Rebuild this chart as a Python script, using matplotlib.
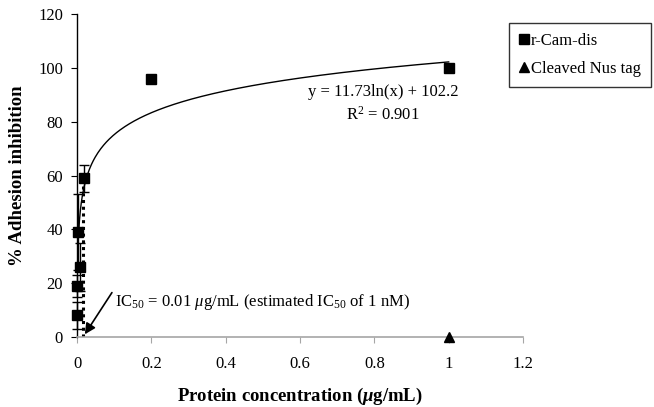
import numpy as np
import matplotlib
matplotlib.use('Agg')
import matplotlib.pyplot as plt
from matplotlib.lines import Line2D

plt.rcParams['font.family'] = 'Liberation Serif'
plt.rcParams['font.size'] = 12
plt.rcParams['mathtext.fontset'] = 'custom'
plt.rcParams['mathtext.rm'] = 'Liberation Serif'
plt.rcParams['mathtext.it'] = 'Liberation Serif:italic'
plt.rcParams['mathtext.bf'] = 'Liberation Serif:italic:bold'

# r-Cam-dis inhibition data
conc = [0.0005, 0.001, 0.008, 0.002, 0.019, 0.2, 1.0]
inhib = [8, 19, 26, 39, 59, 96, 100]
err = [5, 4, 9, 14, 5, 0, 0]

# cleaved Nus tag control
nus_conc = [1.0]
nus_inhib = [0]

# log trendline y = a ln(x) + b
fit_a = 11.73
fit_b = 102.2
fit_x = np.linspace(0.004, 1.0, 400)

ic50 = 0.017
xticks = [0, 0.2, 0.4, 0.6, 0.8, 1.0, 1.2]
xticklabels = ['0', '0.2', '0.4', '0.6', '0.8', '1', '1.2']
yticks = [0, 20, 40, 60, 80, 100, 120]

fig = plt.figure(figsize=(6.54, 4.07), dpi=100)
ax = fig.add_axes([77/654, 1 - 337/407, (523 - 77)/654, (337 - 14)/407])

# dotted IC50 line
ax.plot([ic50, ic50], [0, 58], color='black', linestyle=(0, (1, 1.2)), linewidth=2.2, zorder=2)

# trendline
ax.plot(fit_x, fit_a * np.log(fit_x) + fit_b, color='black', linewidth=1, zorder=3)

# data with error bars
eb = ax.errorbar(conc, inhib, yerr=err, fmt='s', color='black', ms=7, capsize=3.5,
                 elinewidth=1, capthick=1, zorder=4)
for art in eb.lines[0:1] + tuple(eb.lines[1]) + tuple(eb.lines[2]):
    art.set_clip_on(False)
ax.plot(nus_conc, nus_inhib, '^', color='black', ms=7, clip_on=False, zorder=5)

ax.set_xlim(0, 1.2)
ax.set_ylim(0, 120)
ax.set_xticks(xticks)
ax.set_xticklabels(xticklabels)
ax.set_yticks(yticks)

for s in ['top', 'right']:
    ax.spines[s].set_visible(False)
ax.spines['bottom'].set_color('#a6a6a6')
ax.spines['bottom'].set_linewidth(1.2)
ax.spines['left'].set_color('black')
ax.spines['left'].set_linewidth(1)
ax.tick_params(axis='x', colors='#a6a6a6', labelcolor='black', length=4, labelsize=12, pad=10)
ax.tick_params(axis='y', length=4, labelsize=12, pad=6)

ax.set_xlabel(r'Protein concentration ($\mathbf{\mu}$g/mL)', fontsize=13.5, fontweight='bold', labelpad=10)
ax.set_ylabel('% Adhesion inhibition', fontsize=13.5, fontweight='bold', labelpad=9)

# trendline equation
ax.text(0.823, 91, 'y = 11.73ln(x) + 102.2', ha='center', va='center', fontsize=12)
ax.text(0.823, 82.5, r'R$^2$ = 0.901', ha='center', va='center', fontsize=12)

# IC50 annotation
ax.text(0.102, 13, r'IC$_{50}$ = 0.01 $\mu$g/mL (estimated IC$_{50}$ of 1 nM)',
        fontsize=12, va='center', ha='left')
ax.annotate('', xy=(0.021, 1.0), xytext=(0.094, 16.5),
            arrowprops=dict(arrowstyle='-|>', color='black', lw=1.2, mutation_scale=16,
                            shrinkA=0, shrinkB=0))

# legend
handles = [Line2D([], [], marker='s', color='black', linestyle='none', ms=7),
           Line2D([], [], marker='^', color='black', linestyle='none', ms=7)]
leg = fig.legend(handles, ['r-Cam-dis', 'Cleaved Nus tag'], loc='upper left',
                 bbox_to_anchor=(509/654, 1 - 23/407), frameon=True, fancybox=False,
                 edgecolor='black', handlelength=0.6, handletextpad=0.1,
                 borderpad=0.6, labelspacing=0.7, fontsize=12, borderaxespad=0)
leg.get_frame().set_linewidth(1)

fig.savefig('out.png', dpi=100)
